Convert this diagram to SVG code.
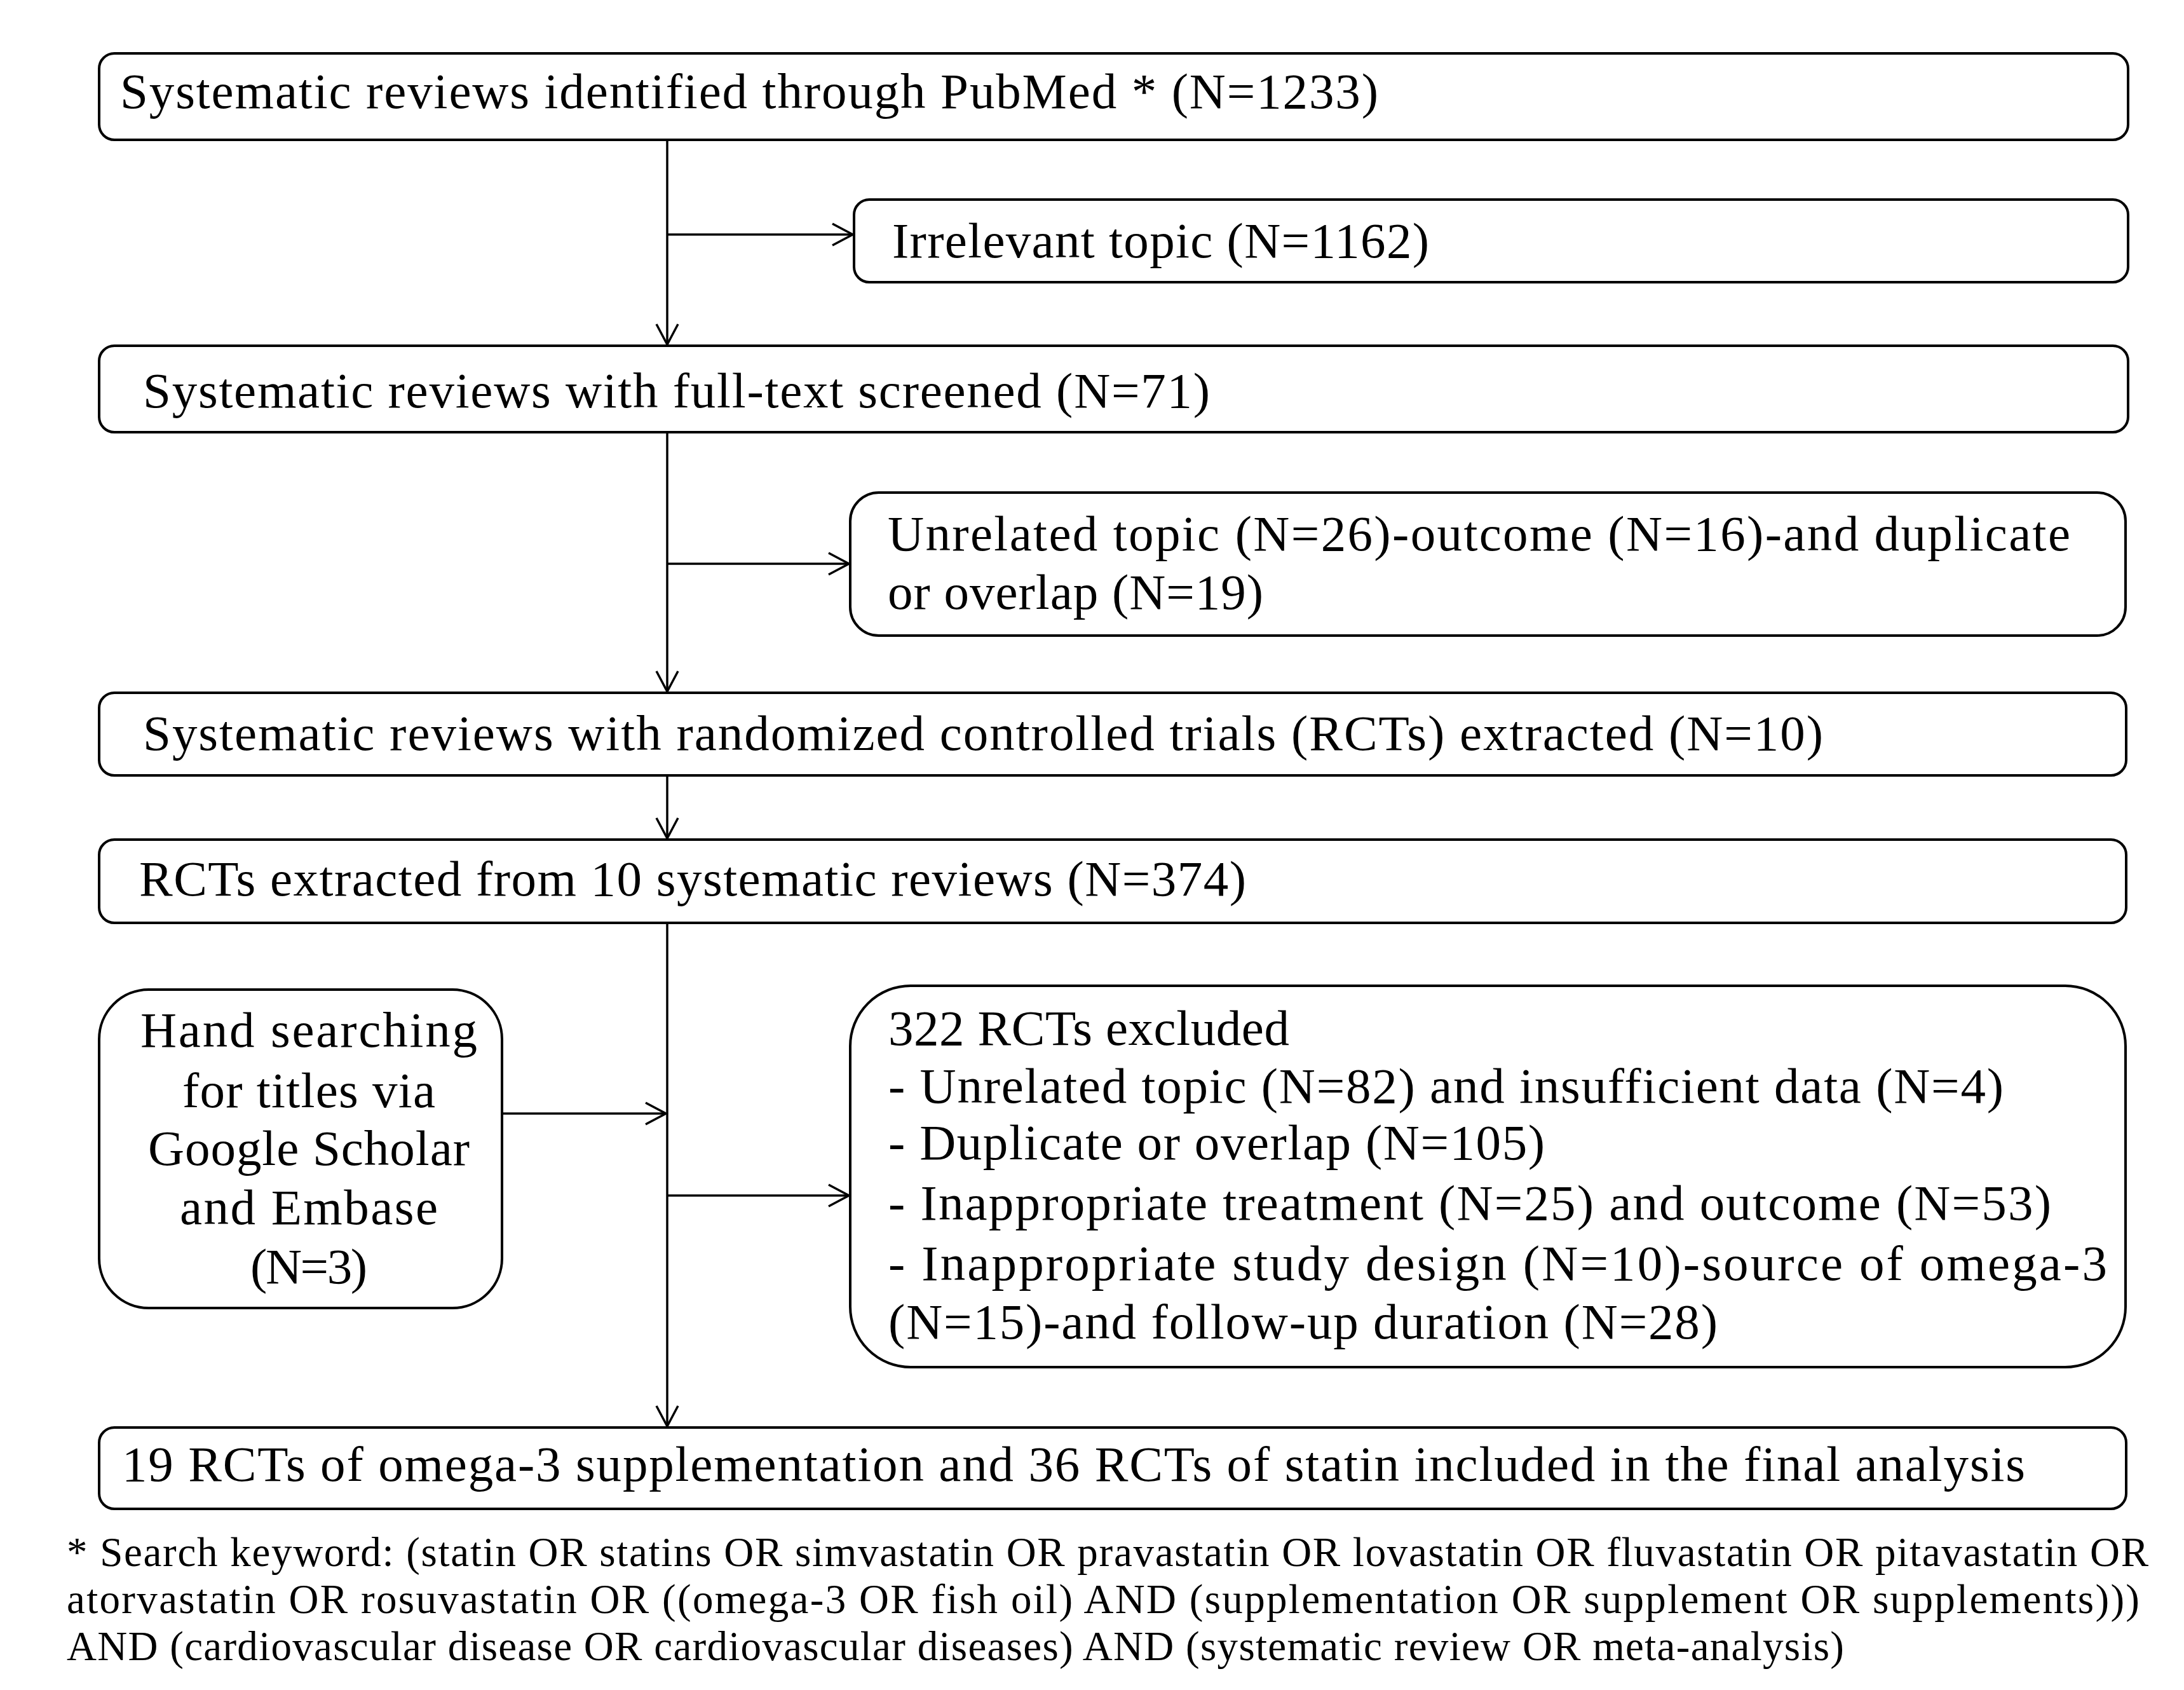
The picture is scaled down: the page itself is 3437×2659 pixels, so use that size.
<svg xmlns="http://www.w3.org/2000/svg" width="3437" height="2659" viewBox="0 0 3437 2659">
<style>
.box{fill:#fff;stroke:#000;stroke-width:4}
.t{font-family:"Liberation Serif","Times New Roman",serif;font-size:79px;fill:#000}
.f{font-family:"Liberation Serif","Times New Roman",serif;font-size:65px;fill:#000}
.c{fill:none;stroke:#000;stroke-width:3.5}
</style>
<defs>
<marker id="ah" markerUnits="userSpaceOnUse" markerWidth="40" markerHeight="40" viewBox="-36 -20 40 40" refX="0" refY="0" orient="auto">
<path d="M-32,-17 L0,0 L-32,17" fill="none" stroke="#000" stroke-width="3.5"/>
</marker>
</defs>
<rect width="3437" height="2659" fill="#fff"/>
<g id="connectors">
<line class="c" x1="1050" y1="220" x2="1050" y2="542" marker-end="url(#ah)"/>
<line class="c" x1="1050" y1="369" x2="1342" y2="369" marker-end="url(#ah)"/>
<line class="c" x1="1050" y1="680" x2="1050" y2="1088" marker-end="url(#ah)"/>
<line class="c" x1="1050" y1="887" x2="1336" y2="887" marker-end="url(#ah)"/>
<line class="c" x1="1050" y1="1220" x2="1050" y2="1319" marker-end="url(#ah)"/>
<line class="c" x1="1050" y1="1452" x2="1050" y2="2244" marker-end="url(#ah)"/>
<line class="c" x1="1050" y1="1881" x2="1336" y2="1881" marker-end="url(#ah)"/>
<line class="c" x1="790" y1="1752" x2="1048" y2="1752" marker-end="url(#ah)"/>
</g>
<g id="n1">
<rect class="box" x="156" y="84" width="3193" height="136" rx="24"/>
<text class="t" x="189" y="170" textLength="1980" lengthAdjust="spacing">Systematic reviews identified through PubMed * (N=1233)</text>
</g>
<g id="n2">
<rect class="box" x="1344" y="314" width="2005" height="130" rx="24"/>
<text class="t" x="1404" y="405" textLength="845" lengthAdjust="spacing">Irrelevant topic (N=1162)</text>
</g>
<g id="n3">
<rect class="box" x="156" y="544" width="3193" height="136" rx="24"/>
<text class="t" x="225" y="641" textLength="1679" lengthAdjust="spacing">Systematic reviews with full-text screened (N=71)</text>
</g>
<g id="n4">
<rect class="box" x="1338" y="775" width="2007" height="225" rx="45"/>
<text class="t" x="1397" y="866" textLength="1861" lengthAdjust="spacing">Unrelated topic (N=26)-outcome (N=16)-and duplicate</text>
<text class="t" x="1397" y="958" textLength="591" lengthAdjust="spacing">or overlap (N=19)</text>
</g>
<g id="n5">
<rect class="box" x="156" y="1090" width="3190" height="130" rx="24"/>
<text class="t" x="225" y="1180" textLength="2644" lengthAdjust="spacing">Systematic reviews with randomized controlled trials (RCTs) extracted (N=10)</text>
</g>
<g id="n6">
<rect class="box" x="156" y="1321" width="3190" height="131" rx="24"/>
<text class="t" x="219" y="1409" textLength="1742" lengthAdjust="spacing">RCTs extracted from 10 systematic reviews (N=374)</text>
</g>
<g id="n7">
<rect class="box" x="156" y="1557" width="634" height="501" rx="78"/>
<text class="t" x="486" y="1647" text-anchor="middle" textLength="530" lengthAdjust="spacing">Hand searching</text>
<text class="t" x="486" y="1742" text-anchor="middle" textLength="398" lengthAdjust="spacing">for titles via</text>
<text class="t" x="486" y="1833" text-anchor="middle" textLength="506" lengthAdjust="spacing">Google Scholar</text>
<text class="t" x="486" y="1926" text-anchor="middle" textLength="406" lengthAdjust="spacing">and Embase</text>
<text class="t" x="486" y="2019" text-anchor="middle" textLength="184" lengthAdjust="spacing">(N=3)</text>
</g>
<g id="n8">
<rect class="box" x="1338" y="1551" width="2007" height="600" rx="95"/>
<text class="t" x="1398" y="1644" textLength="631" lengthAdjust="spacing">322 RCTs excluded</text>
<text class="t" x="1398" y="1735" textLength="1755" lengthAdjust="spacing">- Unrelated topic (N=82) and insufficient data (N=4)</text>
<text class="t" x="1398" y="1824" textLength="1033" lengthAdjust="spacing">- Duplicate or overlap (N=105)</text>
<text class="t" x="1398" y="1919" textLength="1830" lengthAdjust="spacing">- Inappropriate treatment (N=25) and outcome (N=53)</text>
<text class="t" x="1398" y="2014" textLength="1918" lengthAdjust="spacing">- Inappropriate study design (N=10)-source of omega-3</text>
<text class="t" x="1398" y="2106" textLength="1305" lengthAdjust="spacing">(N=15)-and follow-up duration (N=28)</text>
</g>
<g id="n9">
<rect class="box" x="156" y="2246" width="3190" height="128" rx="24"/>
<text class="t" x="192" y="2330" textLength="2995" lengthAdjust="spacing">19 RCTs of omega-3 supplementation and 36 RCTs of statin included in the final analysis</text>
</g>
<g id="footnote">
<text class="f" x="105" y="2464" textLength="3276" lengthAdjust="spacing">* Search keyword: (statin OR statins OR simvastatin OR pravastatin OR lovastatin OR fluvastatin OR pitavastatin OR</text>
<text class="f" x="105" y="2538" textLength="3262" lengthAdjust="spacing">atorvastatin OR rosuvastatin OR ((omega-3 OR fish oil) AND (supplementation OR supplement OR supplements)))</text>
<text class="f" x="105" y="2612" textLength="2797" lengthAdjust="spacing">AND (cardiovascular disease OR cardiovascular diseases) AND (systematic review OR meta-analysis)</text>
</g>
</svg>
